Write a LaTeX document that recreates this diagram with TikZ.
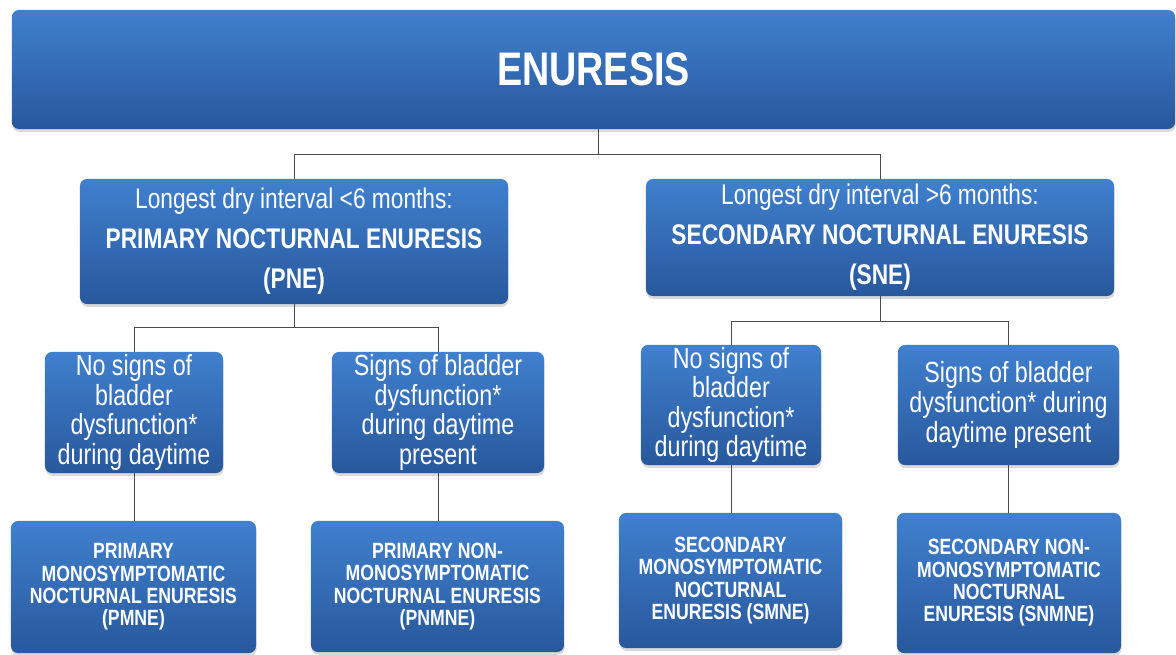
\documentclass[tikz,border=0pt]{standalone}
\usepackage{fontspec}
\setmainfont{Liberation Sans}[FakeStretch=0.8]
\usetikzlibrary{shadows}
\definecolor{boxtop}{RGB}{64,128,206}
\definecolor{boxbottom}{RGB}{40,88,156}
\definecolor{linkgray}{RGB}{75,75,75}
\tikzset
{
    blockbase/.style = {rectangle, rounded corners=5pt, top color=boxtop, bottom color=boxbottom, text=white, align=center, inner sep=0pt, drop shadow={shadow xshift=0.4pt, shadow yshift=-2pt, opacity=0.3}},
    rootnode/.style  = {blockbase, font=\fontsize{33.5}{38}\selectfont\bfseries},
    groupnode/.style = {blockbase, font=\fontsize{20.2}{28.5}\selectfont},
    signnode/.style  = {blockbase, font=\fontsize{20.7}{21}\selectfont},
    typenode/.style  = {blockbase, font=\fontsize{15.7}{15.9}\selectfont\bfseries},
    link/.style      = {draw=linkgray, line width=0.6pt}
}

\begin{document}
\begin{tikzpicture}[x=0.025cm, y=-0.025cm]
	\useasboundingbox (0,0) rectangle (1176,655);

	\node[rootnode, minimum width=29.075cm, minimum height=2.975cm] (enuresis) at (593.5,69.5) {ENURESIS};

	\node[groupnode, minimum width=10.7cm, minimum height=3.125cm] (pne) at (294,241.5)
		{Longest dry interval <6 months:\\ \textbf{PRIMARY NOCTURNAL ENURESIS}\\ \textbf{(PNE)}};
	\node[groupnode, minimum width=11.7cm, minimum height=2.925cm] (sne) at (880,237.5)
		{Longest dry interval >6 months:\\ \textbf{SECONDARY NOCTURNAL ENURESIS}\\ \textbf{(SNE)}};

	\node[signnode, minimum width=4.45cm, minimum height=3.025cm] (pneno) at (134,412.5)
		{No signs of\\ bladder\\ dysfunction*\\ during daytime};
	\node[signnode, minimum width=5.3cm, minimum height=3.025cm] (pnesigns) at (438,412.5)
		{Signs of bladder\\ dysfunction*\\ during daytime\\ present};
	\node[signnode, minimum width=4.5cm, minimum height=3cm] (sneno) at (731,405)
		{No signs of\\ bladder\\ dysfunction*\\ during daytime};
	\node[signnode, minimum width=5.525cm, minimum height=3cm] (snesigns) at (1008.5,405)
		{Signs of bladder\\ dysfunction* during\\ daytime present};

	\node[typenode, minimum width=6.125cm, minimum height=3.3cm] (pmne) at (133.5,587)
		{PRIMARY\\ MONOSYMPTOMATIC\\ NOCTURNAL ENURESIS\\ (PMNE)};
	\node[typenode, minimum width=6.325cm, minimum height=3.275cm] (pnmne) at (437.5,586.5)
		{PRIMARY NON-\\ MONOSYMPTOMATIC\\ NOCTURNAL ENURESIS\\ (PNMNE)};
	\node[typenode, minimum width=5.575cm, minimum height=3.375cm] (smne) at (730.5,580.5)
		{SECONDARY\\ MONOSYMPTOMATIC\\ NOCTURNAL\\ ENURESIS (SMNE)};
	\node[typenode, minimum width=5.6cm, minimum height=3.5cm] (snmne) at (1009,583)
		{SECONDARY NON-\\ MONOSYMPTOMATIC\\ NOCTURNAL\\ ENURESIS (SNMNE)};

	\draw[link] (enuresis.south) ++(4.5,0) -- ++(0,25) -| (pne.north);
	\draw[link] (enuresis.south) ++(4.5,0) -- ++(0,25) -| (sne.north);
	\draw[link] (pne.south) -- ++(0,23) -| (pneno.north);
	\draw[link] (pne.south) -- ++(0,23) -| (pnesigns.north);
	\draw[link] (sne.south) -- ++(0,25) -| (sneno.north);
	\draw[link] (sne.south) -- ++(0,25) -| (snesigns.north);
	\draw[link] (pneno.south) -- (pneno.south |- pmne.north);
	\draw[link] (pnesigns.south) -- (pnesigns.south |- pnmne.north);
	\draw[link] (sneno.south) -- (sneno.south |- smne.north);
	\draw[link] (snesigns.south) -- (snesigns.south |- snmne.north);
\end{tikzpicture}
\end{document}
